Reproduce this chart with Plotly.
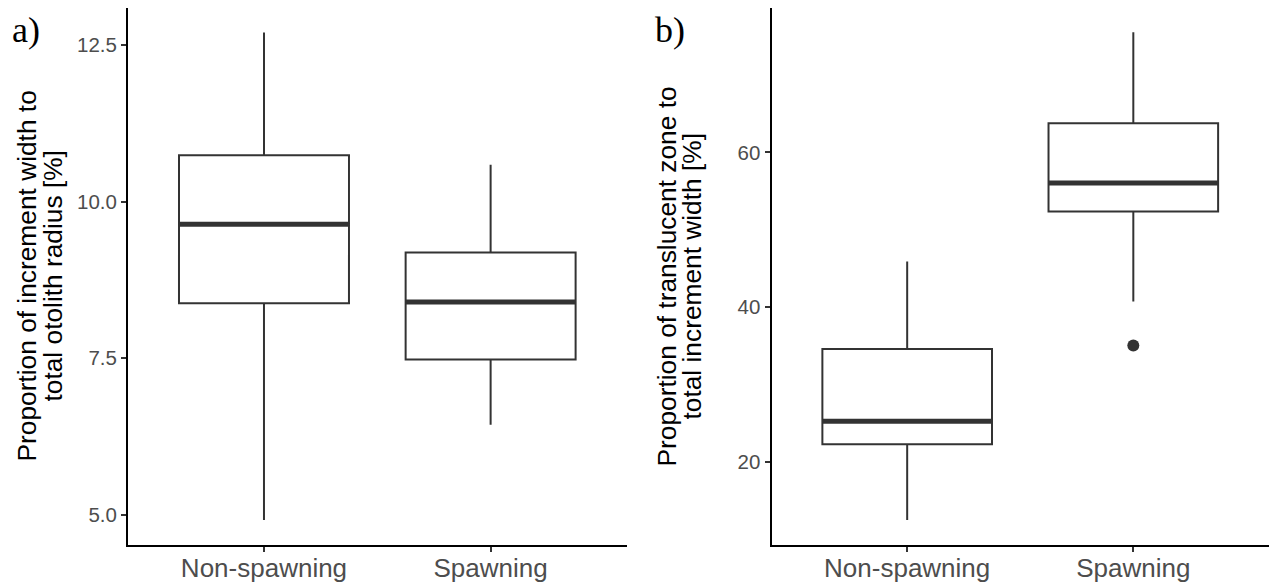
import plotly.graph_objects as go

# Groups on the x axis
groups = ["Non-spawning", "Spawning"]
group_pos = [0, 1]

# a) Proportion of increment width to total otolith radius [%]
a_lower = [4.92, 6.44]
a_q1 = [8.38, 7.48]
a_median = [9.64, 8.40]
a_q3 = [10.74, 9.19]
a_upper = [12.70, 10.59]
a_outliers = []

# b) Proportion of translucent zone to total increment width [%]
b_lower = [12.46, 40.71]
b_q1 = [22.26, 52.35]
b_median = [25.22, 56.02]
b_q3 = [34.56, 63.77]
b_upper = [45.88, 75.54]
b_outliers = [(1, 35.02)]

a_ticks = [5.0, 7.5, 10.0, 12.5]
b_ticks = [20, 40, 60]

W, H = 1275, 586
BOX_W = 0.75
INK = "#333333"
TICK_TXT = "#4D4D4D"
SANS = "Liberation Sans, Arial, sans-serif"
SERIF = "Liberation Serif, Times New Roman, serif"

fig = go.Figure()


def add_panel(xa, ya, lower, q1, med, q3, upper, outliers):
    fig.add_trace(go.Box(
        x=group_pos, q1=q1, median=med, q3=q3,
        lowerfence=lower, upperfence=upper,
        width=BOX_W, whiskerwidth=0, boxpoints=False,
        fillcolor="white", line=dict(color=INK, width=2),
        xaxis=xa, yaxis=ya, showlegend=False, hoverinfo="skip",
    ))
    # thicker median bar drawn over each box
    mx, my = [], []
    for p, m in zip(group_pos, med):
        mx += [p - BOX_W / 2, p + BOX_W / 2, None]
        my += [m, m, None]
    fig.add_trace(go.Scatter(
        x=mx, y=my, mode="lines", line=dict(color=INK, width=5),
        xaxis=xa, yaxis=ya, showlegend=False, hoverinfo="skip",
    ))
    if outliers:
        fig.add_trace(go.Scatter(
            x=[o[0] for o in outliers], y=[o[1] for o in outliers],
            mode="markers", marker=dict(color=INK, size=12),
            xaxis=xa, yaxis=ya, showlegend=False, hoverinfo="skip",
        ))


add_panel("x", "y", a_lower, a_q1, a_median, a_q3, a_upper, a_outliers)
add_panel("x2", "y2", b_lower, b_q1, b_median, b_q3, b_upper, b_outliers)

axis_common = dict(
    showline=True, linecolor="black", linewidth=2,
    ticks="outside", ticklen=5, tickwidth=2, tickcolor=INK,
    showgrid=False, zeroline=False, automargin=False,
)
xcommon = dict(axis_common, range=[-0.6, 1.6], tickvals=group_pos, ticktext=groups,
               ticklabelstandoff=-6,
               tickfont=dict(family=SANS, size=26, color=TICK_TXT))
ycommon = dict(axis_common, tickfont=dict(family=SANS, size=20.5, color=TICK_TXT))

fig.update_layout(
    width=W, height=H,
    margin=dict(l=0, r=0, t=8, b=41),
    paper_bgcolor="white", plot_bgcolor="white",
    xaxis=dict(xcommon, domain=[128 / W, 626.6 / W], anchor="y"),
    yaxis=dict(ycommon, domain=[0, 1], range=[4.52, 13.09], anchor="x",
               tickvals=a_ticks, ticktext=[f"{t:.1f}" for t in a_ticks]),
    xaxis2=dict(xcommon, domain=[771.5 / W, 1269 / W], anchor="y2"),
    yaxis2=dict(ycommon, domain=[0, 1], range=[9.23, 78.66], anchor="x2",
                tickvals=b_ticks, ticktext=[str(t) for t in b_ticks]),
)

# Y axis titles, one annotation per line
titles = [
    (26, "Proportion of increment width to"),
    (52, "total otolith radius [%]"),
    (666, "Proportion of translucent zone to"),
    (691, "total increment width [%]"),
]
for xpix, txt in titles:
    fig.add_annotation(
        x=xpix / W, y=(H - 293) / H, xref="paper", yref="paper",
        text=txt, textangle=-90, showarrow=False,
        xanchor="center", yanchor="middle",
        font=dict(family=SANS, size=26.3, color="black"),
    )

# Panel letters
for xpix, txt in [(26, "a)"), (670, "b)")]:
    fig.add_annotation(
        x=xpix / W, y=(H - 24) / H, xref="paper", yref="paper",
        text=txt, showarrow=False, xanchor="center", yanchor="middle",
        font=dict(family=SERIF, size=36, color="black"),
    )

fig.write_html("out.html")
